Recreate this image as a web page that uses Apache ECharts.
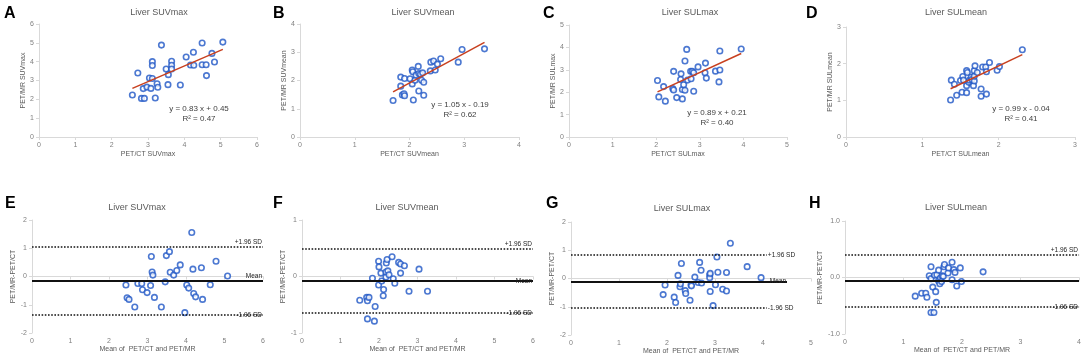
<!DOCTYPE html>
<html>
<head>
<meta charset="utf-8">
<script src="https://cdn.jsdelivr.net/npm/echarts@6/dist/echarts.min.js"></script>
<style>
html,body{margin:0;padding:0;background:#fff}
#main{width:1084px;height:356px}
</style>
</head>
<body>
<div id="main"></div>
<script>
// ---- data ----
const panelLetters = ['A', 'B', 'C', 'D', 'E', 'F', 'G', 'H'];
const panelTitles = ['Liver SUVmax', 'Liver SUVmean', 'Liver SULmax', 'Liver SULmean'];
const ctNames = ['PET/CT SUVmax', 'PET/CT SUVmean', 'PET/CT SULmax', 'PET/CT SULmean'];
const mrNames = ['PET/MR SUVmax', 'PET/MR SUVmean', 'PET/MR SULmax', 'PET/MR SULmean'];
const baXName = 'Mean of  PET/CT and PET/MR';
const baYName = 'PET/MR-PET/CT';

// top row: PET/CT vs PET/MR
const suvmaxPairs = [[2.57,2.23],[2.72,3.40],[2.82,2.05],[2.90,2.05],[2.87,2.57],[2.97,2.65],[3.04,3.13],[3.08,2.58],[3.12,4.00],[3.12,3.80],[3.12,3.11],[3.20,2.07],[3.25,2.83],[3.27,2.64],[3.37,4.88],[3.50,3.61],[3.55,2.78],[3.56,3.31],[3.65,4.02],[3.65,3.81],[3.65,3.61],[3.89,2.76],[4.05,4.25],[4.17,3.82],[4.25,4.50],[4.26,3.81],[4.49,4.99],[4.49,3.84],[4.60,3.84],[4.61,3.26],[4.76,4.44],[4.83,3.98],[5.06,5.04]];
const suvmeanPairs = [[1.70,1.29],[1.84,2.12],[1.84,1.80],[1.87,1.49],[1.90,1.53],[1.91,1.46],[1.91,2.07],[2.01,2.06],[2.05,2.37],[2.06,2.31],[2.05,1.88],[2.07,1.31],[2.10,2.01],[2.12,2.19],[2.16,2.50],[2.17,2.25],[2.17,1.63],[2.20,2.22],[2.24,2.27],[2.22,2.01],[2.26,1.94],[2.26,1.48],[2.38,2.34],[2.39,2.65],[2.44,2.69],[2.47,2.37],[2.51,2.58],[2.57,2.77],[2.89,2.65],[2.96,3.10],[3.37,3.12]];
const sulmaxPairs = [[2.03,2.52],[2.06,1.79],[2.17,2.25],[2.21,1.60],[2.38,2.16],[2.40,2.10],[2.40,2.93],[2.47,1.76],[2.57,2.82],[2.56,2.57],[2.60,1.70],[2.60,2.12],[2.63,2.33],[2.66,2.09],[2.66,3.39],[2.70,3.91],[2.72,2.54],[2.79,2.93],[2.80,2.60],[2.83,2.93],[2.86,2.87],[2.86,2.04],[2.96,3.13],[3.12,2.87],[3.13,3.30],[3.15,2.63],[3.36,2.94],[3.44,2.46],[3.46,2.99],[3.46,3.84],[3.95,3.93]];
const sulmeanPairs = [[1.37,1.01],[1.38,1.55],[1.42,1.44],[1.45,1.14],[1.50,1.54],[1.53,1.65],[1.52,1.22],[1.54,1.55],[1.58,1.21],[1.58,1.40],[1.58,1.81],[1.59,1.76],[1.61,1.49],[1.62,1.55],[1.64,1.63],[1.65,1.57],[1.67,1.40],[1.68,1.53],[1.68,1.66],[1.68,1.81],[1.69,1.94],[1.72,1.76],[1.77,1.31],[1.77,1.11],[1.79,1.91],[1.83,1.91],[1.84,1.17],[1.84,1.78],[1.88,2.03],[1.98,1.82],[2.01,1.92],[2.31,2.38]];
const fitSlope = [0.83, 1.05, 0.89, 0.99];
const fitIntercept = [0.45, -0.19, 0.21, -0.04];
const fitR2 = [0.47, 0.62, 0.40, 0.41];
const scatterMax = [6, 4, 5, 3];

// bottom row: Bland-Altman (mean, difference)
const suvmaxDiff = [[2.44,-0.30],[2.47,-0.75],[2.52,-0.81],[2.67,-1.08],[2.75,-0.25],[2.85,-0.25],[2.87,-0.47],[2.99,-0.57],[3.08,-0.32],[3.10,0.71],[3.12,0.16],[3.14,0.05],[3.18,-0.74],[3.36,-1.08],[3.46,-0.19],[3.49,0.74],[3.57,0.88],[3.59,0.15],[3.68,0.05],[3.76,0.21],[3.85,0.41],[3.97,-1.28],[4.02,-0.30],[4.07,-0.41],[4.15,1.56],[4.18,0.26],[4.20,-0.60],[4.25,-0.72],[4.40,0.31],[4.43,-0.81],[4.63,-0.29],[4.78,0.54],[5.08,0.02]];
const suvmeanDiff = [[1.50,-0.42],[1.68,-0.37],[1.70,-0.43],[1.74,-0.37],[1.70,-0.75],[1.83,-0.03],[1.88,-0.79],[1.90,-0.53],[1.99,0.27],[2.00,0.17],[1.99,-0.15],[2.05,0.06],[2.07,-0.08],[2.12,-0.23],[2.11,-0.34],[2.18,-0.01],[2.18,0.08],[2.19,0.24],[2.21,0.30],[2.23,0.10],[2.26,0.03],[2.34,0.35],[2.37,-0.04],[2.41,-0.12],[2.51,0.25],[2.56,0.06],[2.56,0.22],[2.66,0.19],[2.78,-0.26],[3.04,0.13],[3.26,-0.26]];
const sulmaxDiff = [[1.92,-0.57],[1.96,-0.23],[2.15,-0.66],[2.18,-0.85],[2.23,0.11],[2.27,-0.29],[2.28,-0.19],[2.30,0.53],[2.38,-0.43],[2.39,-0.53],[2.48,-0.77],[2.50,-0.23],[2.51,-0.26],[2.58,0.05],[2.65,-0.14],[2.68,0.57],[2.71,0.29],[2.72,-0.16],[2.89,0.13],[2.89,0.03],[2.90,-0.46],[2.90,0.18],[2.96,-0.96],[3.01,-0.22],[3.04,0.76],[3.06,0.22],[3.16,-0.38],[3.24,0.21],[3.24,-0.44],[3.32,1.25],[3.67,0.42],[3.96,0.03]];
const sulmeanDiff = [[1.20,-0.33],[1.31,-0.28],[1.38,-0.28],[1.40,-0.35],[1.44,0.03],[1.47,0.19],[1.47,-0.02],[1.47,-0.62],[1.50,-0.17],[1.52,-0.62],[1.53,0.04],[1.55,-0.25],[1.56,-0.44],[1.57,0.05],[1.60,-0.06],[1.60,0.13],[1.62,-0.11],[1.63,-0.01],[1.65,-0.07],[1.66,0.03],[1.68,0.02],[1.69,0.19],[1.70,0.23],[1.76,0.08],[1.77,0.17],[1.83,0.27],[1.83,-0.04],[1.86,0.14],[1.88,0.09],[1.91,-0.15],[1.97,0.17],[1.99,-0.07],[2.36,0.10]];
const baMean = [-0.15, -0.08, -0.11, -0.06];
const baUpper = [1.07, 0.50, 0.84, 0.41];
const baLower = [-1.37, -0.65, -1.05, -0.52];
const baXMax = [6, 6, 5, 4];
const baYMin = [-2, -1, -2, -1];
const baYMax = [2, 1, 2, 1];
const baLimitEnd = [6, 6, 4.08, 4];
const baMeanEnd = [6, 6, 4.5, 4];
const baMeanLabel = ['Mean', 'Mean', 'Mean', ''];

const scatterSets = [suvmaxPairs, suvmeanPairs, sulmaxPairs, sulmeanPairs];
const baSets = [suvmaxDiff, suvmeanDiff, sulmaxDiff, sulmeanDiff];

// ---- layout ----
const gridBoxes = [
    [39, 24, 218, 113], [300, 24, 219, 113], [569, 25, 218, 112], [846, 27, 229, 110],
    [32, 220, 231, 113], [302, 220, 231, 113], [571, 222, 240, 113], [845, 221, 237, 113]
];
const titlePos = [[159, 13], [423, 13], [690, 13], [956, 13], [137, 208], [407, 208], [682, 209], [956, 208]];
const letterPos = [[4, 6], [273, 6], [543, 6], [806, 6], [5, 196], [273, 196], [546, 196], [809, 196]];
const eqPos = [[199, 109], [460, 105], [717, 113], [1021, 109]];
const meanLabelPos = ['insideEndTop', 'insideEnd', 'insideEnd', 'insideEnd'];

const TXT = '#595959';
const FONT = 'Liberation Sans, Arial, sans-serif';

function makeAxis(idx, min, max, name, gap, fmt) {
    return {
        gridIndex: idx, type: 'value', min: min, max: max, interval: 1,
        name: name, nameLocation: 'middle', nameGap: gap,
        nameTextStyle: { fontSize: 7, color: TXT, fontFamily: FONT },
        axisLine: { lineStyle: { color: '#d9d9d9', width: 1 } },
        axisTick: { show: true, length: 3, lineStyle: { color: '#d9d9d9' } },
        splitLine: { show: false },
        axisLabel: { fontSize: 7, color: '#808080', margin: 5, fontFamily: FONT, formatter: fmt }
    };
}

let grids = [], xAxes = [], yAxes = [], series = [], graphics = [];

gridBoxes.forEach(function (b) {
    grids.push({ left: b[0], top: b[1], width: b[2], height: b[3], containLabel: false });
});

// top row
for (let i = 0; i < 4; i++) {
    xAxes.push(makeAxis(i, 0, scatterMax[i], ctNames[i], 14));
    yAxes.push(makeAxis(i, 0, scatterMax[i], mrNames[i], 11));
    let pts = scatterSets[i];
    series.push({
        type: 'scatter', xAxisIndex: i, yAxisIndex: i, data: pts,
        symbol: 'circle', symbolSize: 5.5,
        itemStyle: { color: '#fff', borderColor: '#1f56c6', borderWidth: 1.6 }, z: 3
    });
    let xs = pts.map(function (p) { return p[0]; });
    let x0 = Math.min.apply(null, xs), x1 = Math.max.apply(null, xs);
    series.push({
        type: 'line', xAxisIndex: i, yAxisIndex: i, symbol: 'none', silent: true,
        data: [[x0, fitSlope[i] * x0 + fitIntercept[i]], [x1, fitSlope[i] * x1 + fitIntercept[i]]],
        lineStyle: { color: '#c8401f', width: 1.5 }, z: 4
    });
    let sign = fitIntercept[i] < 0 ? '-' : '+';
    graphics.push({
        type: 'text', x: eqPos[i][0], y: eqPos[i][1],
        style: { text: 'y = ' + fitSlope[i].toFixed(2) + ' x ' + sign + ' ' + Math.abs(fitIntercept[i]).toFixed(2),
            align: 'center', verticalAlign: 'middle', font: '8px ' + FONT, fill: '#404040' }
    });
    graphics.push({
        type: 'text', x: eqPos[i][0], y: eqPos[i][1] + 10,
        style: { text: 'R\u00b2 = ' + fitR2[i].toFixed(2),
            align: 'center', verticalAlign: 'middle', font: '8px ' + FONT, fill: '#404040' }
    });
}

// bottom row
for (let i = 0; i < 4; i++) {
    let k = i + 4;
    let fmt = i === 3 ? function (v) { return v.toFixed(1); } : null;
    xAxes.push(makeAxis(k, 0, baXMax[i], baXName, 12));
    yAxes.push(makeAxis(k, baYMin[i], baYMax[i], baYName, 10, fmt));
    let outside = baLimitEnd[i] < baXMax[i];
    let lim = function (v, end, txt, pos, dotted) {
        return [
            { coord: [0, v], lineStyle: { type: dotted ? 'dotted' : 'solid', width: dotted ? 1.6 : 2, color: '#111' } },
            { coord: [end, v], label: { show: txt !== '', formatter: txt, position: pos, fontSize: 6.5, color: '#222', fontFamily: FONT, distance: 1 } }
        ];
    };
    series.push({
        type: 'scatter', xAxisIndex: k, yAxisIndex: k, data: baSets[i],
        symbol: 'circle', symbolSize: 5.5,
        itemStyle: { color: '#fff', borderColor: '#1f56c6', borderWidth: 1.6 }, z: 3,
        markLine: {
            silent: true, symbol: ['none', 'none'], animation: false,
            data: [
                lim(baUpper[i], baLimitEnd[i], '+1.96 SD', outside ? 'end' : 'insideEndTop', true),
                lim(baMean[i], baMeanEnd[i], baMeanLabel[i], meanLabelPos[i], false),
                lim(baLower[i], baLimitEnd[i], '-1.96 SD', outside ? 'end' : 'insideEnd', true)
            ]
        }
    });
}

// titles and panel letters
for (let k = 0; k < 8; k++) {
    graphics.push({
        type: 'text', x: titlePos[k][0], y: titlePos[k][1],
        style: { text: panelTitles[k % 4], align: 'center', verticalAlign: 'middle', font: '9px ' + FONT, fill: TXT }
    });
    graphics.push({
        type: 'text', x: letterPos[k][0], y: letterPos[k][1],
        style: { text: panelLetters[k], align: 'left', verticalAlign: 'top', font: 'bold 16px ' + FONT, fill: '#000' }
    });
}

let myChart = echarts.init(document.getElementById('main'));
let option = {
    backgroundColor: '#fff',
    animation: false,
    grid: grids,
    xAxis: xAxes,
    yAxis: yAxes,
    series: series,
    graphic: graphics
};
myChart.setOption(option, true);
</script>
</body>
</html>
